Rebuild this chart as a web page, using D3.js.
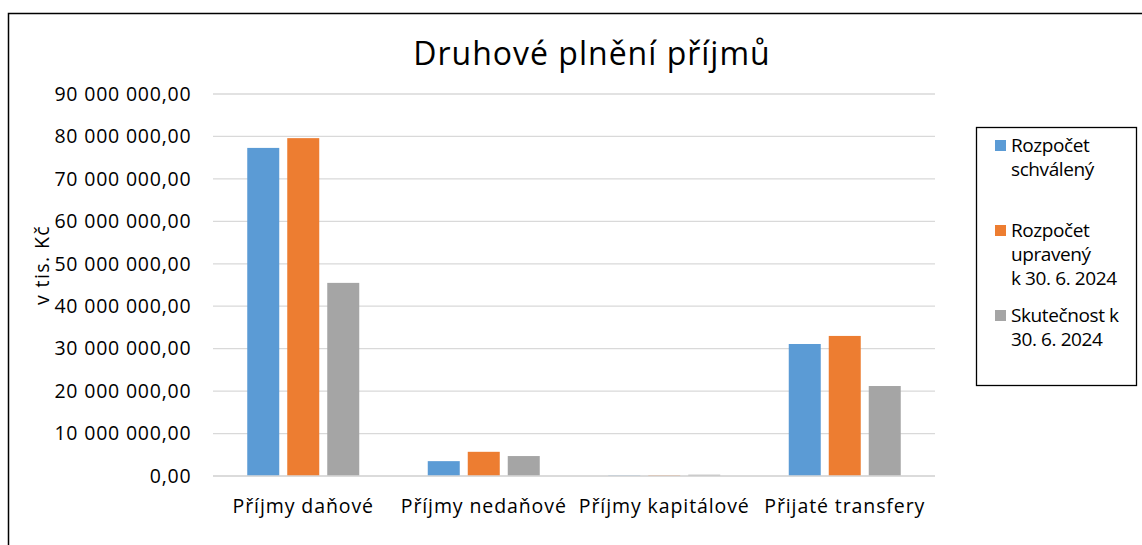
<!DOCTYPE html>
<html>
<head>
<meta charset="utf-8">
<script src="https://cdn.jsdelivr.net/npm/d3@7"></script>
<style>
  body { margin: 0; background: #fff; }
  svg { font-family: "Open Sans", "Noto Sans", sans-serif; }
</style>
</head>
<body>
<svg id="chart" width="1142" height="545"></svg>
<script>
// data
var categories = ["Příjmy daňové", "Příjmy nedaňové", "Příjmy kapitálové", "Přijaté transfery"];
var seriesNames = [["Rozpočet", "schválený"], ["Rozpočet", "upravený", "k 30. 6. 2024"], ["Skutečnost k", "30. 6. 2024"]];
var schvaleny = [77300000, 3500000, 120000, 31100000];
var upraveny = [79600000, 5700000, 150000, 33000000];
var skutecnost = [45500000, 4700000, 300000, 21200000];
var yTicks = [0, 10000000, 20000000, 30000000, 40000000, 50000000, 60000000, 70000000, 80000000, 90000000];
var colors = ["#5b9bd5", "#ed7d31", "#a5a5a5"];

var series = [schvaleny, upraveny, skutecnost];

var svg = d3.select("#chart");

// outer frame
svg.append("rect")
    .attr("x", 8.5).attr("y", 13.5)
    .attr("width", 1150).attr("height", 560)
    .attr("fill", "none").attr("stroke", "#000").attr("stroke-width", 1.5);

var margin = {left: 213, right: 935, top: 94, bottom: 476};

var x = d3.scaleBand()
    .domain(categories)
    .range([margin.left, margin.right]);

var y = d3.scaleLinear()
    .domain([0, 90000000])
    .range([margin.bottom, margin.top]);

var fmt = function(v) {
    var s = d3.format(",.2f")(v);
    return s.replace(/,/g, " ").replace(".", ",");
};

// gridlines
svg.append("g")
    .selectAll("line")
    .data(yTicks)
    .enter().append("line")
    .attr("x1", margin.left).attr("x2", margin.right)
    .attr("y1", function(d) { return y(d); })
    .attr("y2", function(d) { return y(d); })
    .attr("stroke", "#d9d9d9").attr("stroke-width", 1.3);

// y axis labels
var yAxis = d3.axisLeft(y).tickValues(yTicks).tickFormat(fmt).tickSize(0).tickPadding(0);
var gy = svg.append("g")
    .attr("transform", "translate(191.5,0)")
    .call(yAxis);
gy.select(".domain").remove();
gy.selectAll("text")
    .attr("font-size", 19.5)
    .attr("fill", "#000")
    .attr("font-family", "Open Sans, Noto Sans, sans-serif")
    .attr("letter-spacing", 0.8);

// bars
var barW = 32, gap = 8;
var groups = svg.append("g");
series.forEach(function(vals, si) {
    groups.selectAll(".bar" + si)
        .data(vals)
        .enter().append("rect")
        .attr("x", function(d, i) {
            return x(categories[i]) + x.bandwidth() / 2 - (barW * 1.5 + gap) + si * (barW + gap);
        })
        .attr("y", function(d) { return y(d); })
        .attr("width", barW)
        .attr("height", function(d) { return y(0) - y(d); })
        .attr("fill", colors[si]);
});

// x axis line
svg.append("line")
    .attr("x1", margin.left).attr("x2", margin.right)
    .attr("y1", y(0)).attr("y2", y(0))
    .attr("stroke", "#d9d9d9").attr("stroke-width", 1.5);

// category labels
var xAxis = d3.axisBottom(x).tickSize(0).tickPadding(0);
var gx = svg.append("g")
    .attr("transform", "translate(0,499)")
    .call(xAxis);
gx.select(".domain").remove();
gx.selectAll("text")
    .attr("font-size", 19.5)
    .attr("fill", "#000")
    .attr("font-family", "Open Sans, Noto Sans, sans-serif")
    .attr("letter-spacing", 0.9);

// title
svg.append("text")
    .attr("x", 592).attr("y", 65)
    .attr("text-anchor", "middle")
    .attr("font-size", 32)
    .attr("letter-spacing", 1)
    .text("Druhové plnění příjmů");

// y axis title
svg.append("text")
    .attr("transform", "translate(49,265) rotate(-90)")
    .attr("text-anchor", "middle")
    .attr("font-size", 19.5)
    .attr("letter-spacing", 1.4)
    .text("v tis. Kč");

// legend
svg.append("rect")
    .attr("x", 976.5).attr("y", 127.5)
    .attr("width", 160).attr("height", 258)
    .attr("fill", "#fff").attr("stroke", "#000").attr("stroke-width", 1.3);

var legendTop = [152, 237, 322];
var leg = svg.append("g").selectAll("g")
    .data(seriesNames)
    .enter().append("g")
    .attr("transform", function(d, i) { return "translate(995," + legendTop[i] + ")"; });
leg.append("rect")
    .attr("x", 0).attr("y", -12)
    .attr("width", 11).attr("height", 11)
    .attr("fill", function(d, i) { return colors[i]; });
leg.each(function(lines) {
    var t = d3.select(this).append("text")
        .attr("font-size", 19)
        .attr("letter-spacing", -0.4);
    t.selectAll("tspan")
        .data(lines)
        .enter().append("tspan")
        .attr("x", 16)
        .attr("y", function(d, j) { return j * 24; })
        .text(function(d) { return d; });
});
</script>
</body>
</html>
